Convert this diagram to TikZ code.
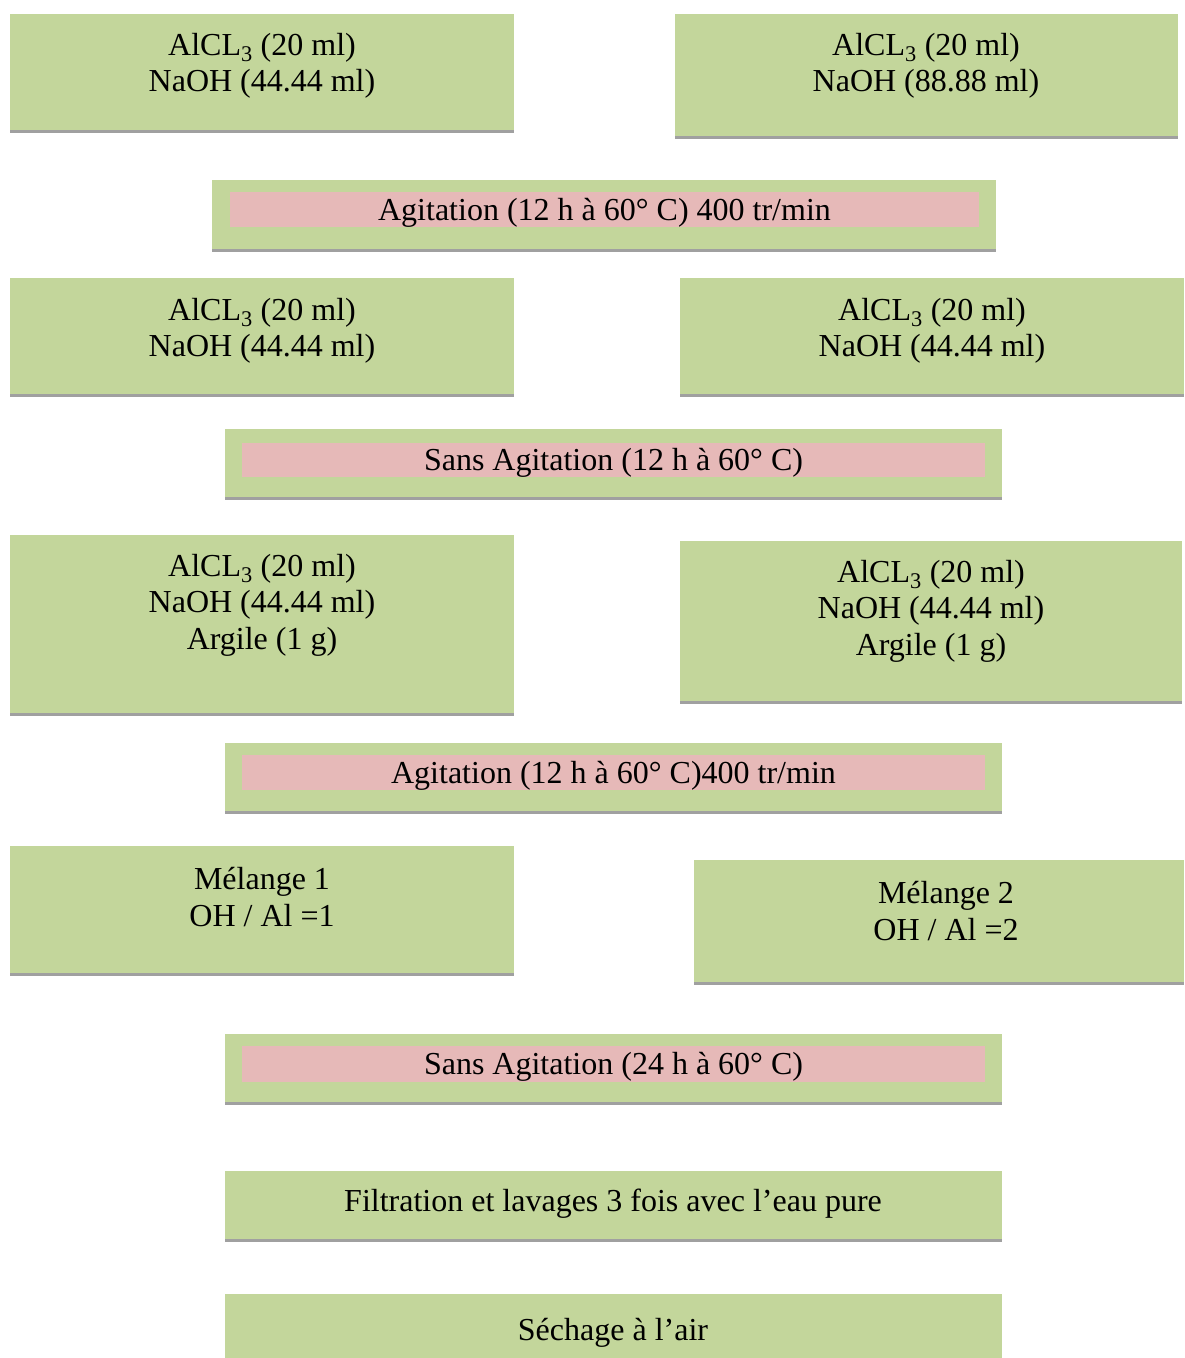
\documentclass[tikz,border=0pt]{standalone}
\usepackage{fontspec}
\setmainfont{Liberation Serif}
\definecolor{boxgreen}{HTML}{C3D69B}
\definecolor{bandpink}{HTML}{E6B9B8}
\definecolor{shadowgray}{HTML}{A0A0A0}
\tikzset{
  gbox/.style={anchor=north west, fill=boxgreen, draw=none, inner sep=0pt, outer sep=0pt},
  pband/.style={anchor=north west, fill=bandpink, draw=none, inner sep=0pt, outer sep=0pt,
    font=\fontsize{32}{36.5}\selectfont},
  txt/.style={align=center, inner sep=0pt, font=\fontsize{32}{36.5}\selectfont},
}
\newcommand{\gboxat}[5]{%
  \node[gbox, minimum width=#4pt, minimum height=#5pt] (#1) at (#2,#3) {};
  \fill[shadowgray] (#1.south west) rectangle ([yshift=-3pt]#1.south east);
}
\newcommand{\lowtext}[1]{\raisebox{-3pt}[\height][\depth]{#1}}
\begin{document}
\begin{tikzpicture}[x=1pt,y=-1pt]
\useasboundingbox (0,0) rectangle (1184,1358);
% row 1
\gboxat{b1}{10}{14}{504}{116}
\node[txt] (t1) at (262,66) {AlCL\textsubscript{3} (20 ml)\\NaOH (44.44 ml)};
\gboxat{b2}{675}{14}{503}{122}
\node[txt] (t2) at (926,66) {AlCL\textsubscript{3} (20 ml)\\NaOH (88.88 ml)};
% band 1
\gboxat{a1}{212}{180}{784}{69}
\node[pband, minimum width=749pt, minimum height=35pt] (p1) at (230,192) {\lowtext{Agitation (12 h à 60° C) 400 tr/min}};
% row 2
\gboxat{b3}{10}{278}{504}{116}
\node[txt] (t3) at (262,331) {AlCL\textsubscript{3} (20 ml)\\NaOH (44.44 ml)};
\gboxat{b4}{680}{278}{504}{116}
\node[txt] (t4) at (932,331) {AlCL\textsubscript{3} (20 ml)\\NaOH (44.44 ml)};
% band 2
\gboxat{a2}{225}{429}{777}{68}
\node[pband, minimum width=743pt, minimum height=34pt] (p2) at (242,443) {\lowtext{Sans Agitation (12 h à 60° C)}};
% row 3
\gboxat{b5}{10}{535}{504}{178}
\node[txt] (t5) at (262,605) {AlCL\textsubscript{3} (20 ml)\\NaOH (44.44 ml)\\Argile (1 g)};
\gboxat{b6}{680}{541}{502}{160}
\node[txt] (t6) at (931,611) {AlCL\textsubscript{3} (20 ml)\\NaOH (44.44 ml)\\Argile (1 g)};
% band 3
\gboxat{a3}{225}{743}{777}{68}
\node[pband, minimum width=743pt, minimum height=35pt] (p3) at (242,755) {\lowtext{Agitation (12 h à 60° C)400 tr/min}};
% row 4
\gboxat{b7}{10}{846}{504}{127}
\node[txt] (t7) at (262,897) {Mélange 1\\OH / Al =1};
\gboxat{b8}{694}{860}{490}{122}
\node[txt] (t8) at (946,911) {Mélange 2\\OH / Al =2};
% band 4
\gboxat{a4}{225}{1034}{777}{68}
\node[pband, minimum width=743pt, minimum height=36pt] (p4) at (242,1046) {\lowtext{Sans Agitation (24 h à 60° C)}};
% filtration
\gboxat{a5}{225}{1171}{777}{68}
\node[txt] (t9) at (613,1204) {Filtration et lavages 3 fois avec l’eau pure};
% sechage
\node[gbox, minimum width=777pt, minimum height=64pt] (a6) at (225,1294) {};
\node[txt] (t10) at (613,1333) {Séchage à l’air};
\end{tikzpicture}
\end{document}
